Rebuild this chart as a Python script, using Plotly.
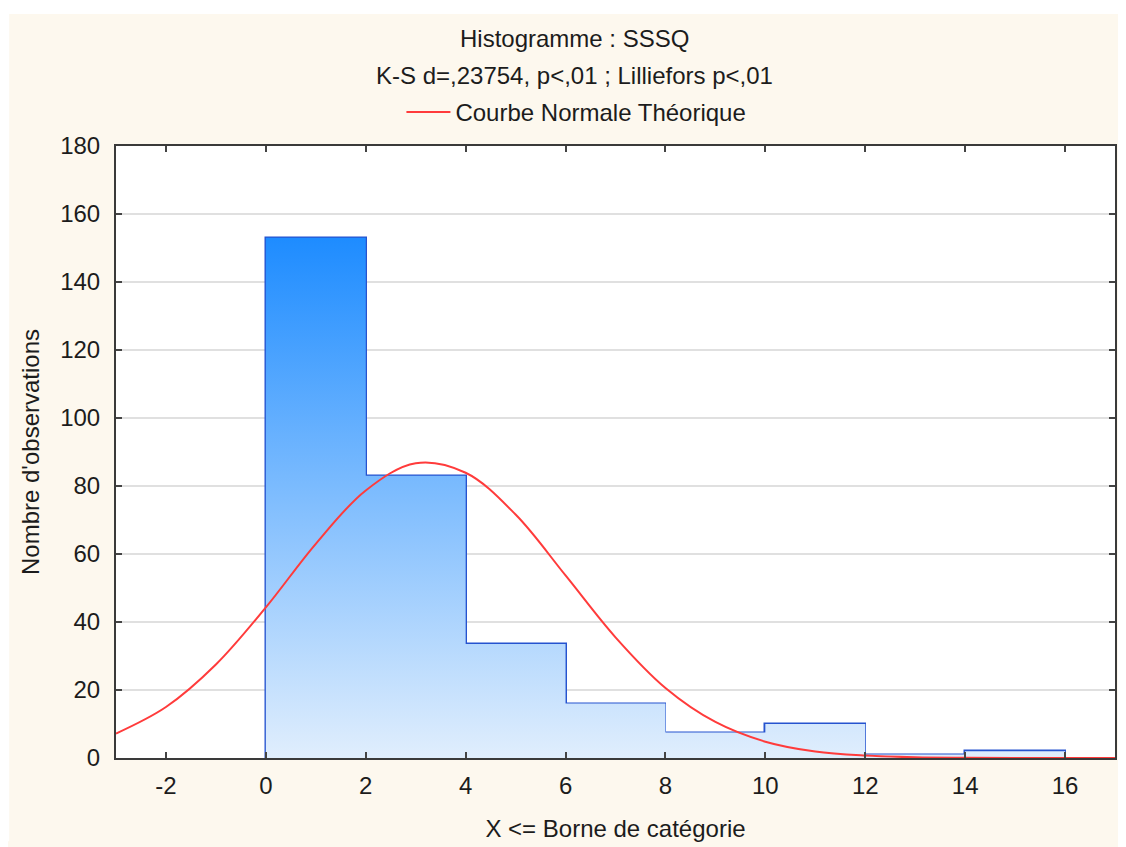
import plotly.graph_objects as go

# ---- data ----
bin_edges = [0, 2, 4, 6, 8, 10, 12, 14, 16]
counts = [153, 83, 33.5, 16, 7.5, 10, 1, 2]

curve_x = [-3, -2, -1, 0, 1, 2, 3, 4, 5, 6, 7, 8, 9, 10, 11, 12, 13, 14, 15, 16, 17]
curve_y = [7.2, 15.0, 27.5, 44.3, 63.0, 78.7, 86.7, 83.9, 71.6, 53.7, 35.5, 20.6,
           10.6, 4.8, 1.9, 0.7, 0.2, 0.05, 0.01, 0.0, 0.0]

x_ticks = [-2, 0, 2, 4, 6, 8, 10, 12, 14, 16]
x_tick_text = ["-2", "0", "2", "4", "6", "8", "10", "12", "14", "16"]
y_ticks = [0, 20, 40, 60, 80, 100, 120, 140, 160, 180]

title_1 = "Histogramme : SSSQ"
title_2 = "K-S d=,23754, p<,01 ; Lilliefors p<,01"
legend_name = "Courbe Normale Théorique"
x_title = "X <= Borne de catégorie"
y_title = "Nombre d'observations"

# ---- styling ----
OFF = 8  # browser body margin
W, H = 1126 - OFF, 847 - OFF
ML, MR, MT, MB = 116 - OFF, 9, 146 - OFF, 84
PW, PH = W - ML - MR, H - MT - MB
FONT = "Arial, Liberation Sans, sans-serif"
CREAM = "#FDF8EE"
BAR_LINE = "#2553CF"
RED = "#FF3B3B"
TXT = "#1c1c1c"


def px_x(p):  # page pixel -> paper x
    return (p - OFF - ML) / PW


def px_y(p):  # page pixel -> paper y
    return 1 + (MT - (p - OFF)) / PH


fig = go.Figure()

# gradient fills of the histogram bars (one polygon per bin, shared vertical gradient)
xs, ys = [], []
for i, c in enumerate(counts):
    x0, x1 = bin_edges[i], bin_edges[i + 1]
    xs += [x0, x0, x1, x1, x0, None]
    ys += [0, c, c, 0, 0, None]
fig.add_trace(go.Scatter(
    x=xs, y=ys, mode="none", fill="toself", showlegend=False, hoverinfo="skip",
    fillgradient=dict(type="vertical",
                      colorscale=[[0, "#E2EFFD"], [1, "#1E8CFF"]],
                      start=0, stop=max(counts)),
))

# bar outlines
centers = [(bin_edges[i] + bin_edges[i + 1]) / 2 for i in range(len(counts))]
widths = [bin_edges[i + 1] - bin_edges[i] for i in range(len(counts))]
fig.add_trace(go.Bar(
    x=centers, y=counts, width=widths, showlegend=False,
    marker=dict(color="rgba(0,0,0,0)", line=dict(color=BAR_LINE, width=2.5)),
))

# theoretical normal curve
fig.add_trace(go.Scatter(
    x=curve_x, y=curve_y, mode="lines", name=legend_name,
    line=dict(color=RED, width=2, shape="spline"),
))

fig.update_layout(
    width=W, height=H,
    margin=dict(l=ML, r=MR, t=MT, b=MB),
    paper_bgcolor=CREAM, plot_bgcolor="white",
    font=dict(family=FONT, size=24, color=TXT),
    showlegend=True,
    legend=dict(orientation="h", x=px_x(402), xanchor="left",
                y=px_y(112), yanchor="middle", itemwidth=44,
                bgcolor="rgba(0,0,0,0)", font=dict(size=24, color=TXT)),
    bargap=0,
    xaxis=dict(range=[-3, 17], tickvals=x_ticks, ticktext=x_tick_text,
               ticks="inside", ticklen=6, tickwidth=2, tickcolor="#444444",
               showline=True, linecolor="#3a3a3a", linewidth=2, mirror="ticks",
               showgrid=False, zeroline=False, ticklabelstandoff=5,
               tickfont=dict(size=24, color=TXT),
               title=dict(text=x_title, font=dict(size=24), standoff=22)),
    yaxis=dict(range=[0, 180], tickvals=y_ticks, ticks="inside", ticklen=6,
               tickwidth=2, tickcolor="#444444",
               showline=True, linecolor="#3a3a3a", linewidth=2, mirror="ticks",
               showgrid=True, gridcolor="#E0E0E0", gridwidth=2, zeroline=False,
               ticklabelstandoff=9,
               tickfont=dict(size=24, color=TXT),
               title=dict(text=y_title, font=dict(size=24), standoff=14)),
    annotations=[
        dict(text=title_1, x=px_x(575), y=px_y(38), xref="paper", yref="paper",
             showarrow=False, xanchor="center", yanchor="middle",
             font=dict(size=24, color=TXT)),
        dict(text=title_2, x=px_x(575), y=px_y(75), xref="paper", yref="paper",
             showarrow=False, xanchor="center", yanchor="middle",
             font=dict(size=24, color=TXT)),
    ],
    shapes=[
        dict(type="rect", xref="paper", yref="paper", x0=px_x(0), x1=px_x(1126),
             y0=px_y(13), y1=px_y(0), fillcolor="white", line=dict(width=0),
             layer="below"),
        dict(type="rect", xref="paper", yref="paper", x0=px_x(0), x1=px_x(9),
             y0=px_y(847), y1=px_y(0), fillcolor="white", line=dict(width=0),
             layer="below"),
    ],
)

fig.write_html("out.html")
